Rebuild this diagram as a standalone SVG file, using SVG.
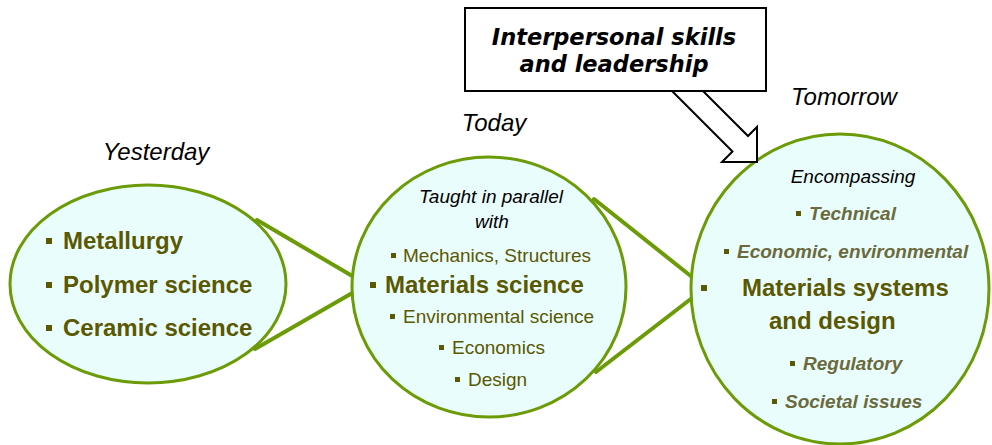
<svg xmlns="http://www.w3.org/2000/svg" width="992" height="445" viewBox="0 0 992 445">
<style>
.node{fill:#eafdfd;stroke:#6b9b06;stroke-width:3}
.conn{stroke:#6b9b06;stroke-width:4;fill:none;stroke-linecap:round}
.era{font-family:"Liberation Sans",Arial,sans-serif;font-style:italic;font-size:24px;fill:#000}
.big{font-family:"Liberation Sans",Arial,sans-serif;font-weight:bold;font-size:24px;fill:#5a5800}
.reg{font-family:"Liberation Sans",Arial,sans-serif;font-size:19px;fill:#5a5800}
.it{font-family:"Liberation Sans",Arial,sans-serif;font-style:italic;font-size:19px;fill:#000}
.bi{font-family:"Liberation Sans",Arial,sans-serif;font-style:italic;font-weight:bold;font-size:19px;fill:#6b6a3c}
.box{font-family:"DejaVu Sans",Verdana,sans-serif;font-style:italic;font-weight:bold;font-size:22.5px;fill:#000}
.b{fill:#5a5800}
</style>
<g id="connectors">
<line class="conn" x1="257" y1="220" x2="354" y2="277"/>
<line class="conn" x1="255" y1="349" x2="354" y2="292"/>
<line class="conn" x1="594" y1="199" x2="692" y2="277"/>
<line class="conn" x1="596" y1="372" x2="692" y2="298"/>
</g>
<g id="yesterday">
<text class="era" x="156" y="160" text-anchor="middle">Yesterday</text>
<ellipse class="node" cx="148" cy="284" rx="138" ry="99"/>
<rect class="b" x="46" y="238" width="6" height="6"/>
<text class="big" x="63" y="249">Metallurgy</text>
<rect class="b" x="46" y="282" width="6" height="6"/>
<text class="big" x="63" y="293">Polymer science</text>
<rect class="b" x="46" y="325" width="6" height="6"/>
<text class="big" x="63" y="336">Ceramic science</text>
</g>
<g id="today">
<text class="era" x="494" y="131" text-anchor="middle">Today</text>
<ellipse class="node" cx="489" cy="287" rx="137" ry="130"/>
<text class="it" x="491" y="203" text-anchor="middle">Taught in parallel</text>
<text class="it" x="492" y="228" text-anchor="middle">with</text>
<rect class="b" x="391" y="253" width="5" height="5"/>
<text class="reg" x="403" y="262">Mechanics, Structures</text>
<rect class="b" x="370" y="282" width="6" height="6"/>
<text class="big" x="385" y="293">Materials science</text>
<rect class="b" x="390" y="314" width="5" height="5"/>
<text class="reg" x="403" y="323">Environmental science</text>
<rect class="b" x="439" y="345" width="5" height="5"/>
<text class="reg" x="452" y="354">Economics</text>
<rect class="b" x="455" y="377" width="5" height="5"/>
<text class="reg" x="468" y="386">Design</text>
</g>
<g id="tomorrow">
<text class="era" x="844" y="105" text-anchor="middle">Tomorrow</text>
<ellipse class="node" cx="840" cy="289" rx="149" ry="155"/>
<text class="it" x="853" y="183" text-anchor="middle">Encompassing</text>
<rect class="b" x="796" y="211" width="5" height="5"/>
<text class="bi" x="809" y="220">Technical</text>
<rect class="b" x="724" y="249" width="5" height="5"/>
<text class="bi" x="737" y="258">Economic, environmental</text>
<rect class="b" x="701" y="285" width="6" height="6"/>
<text class="big" x="742" y="296">Materials systems</text>
<text class="big" x="769" y="329">and design</text>
<rect class="b" x="790" y="361" width="5" height="5"/>
<text class="bi" x="803" y="370">Regulatory</text>
<rect class="b" x="772" y="399" width="5" height="5"/>
<text class="bi" x="785" y="408">Societal issues</text>
</g>
<g id="skills">
<polygon points="672,91 732.5,151.5 722,162 757,162 757,127 748,136 703,91" fill="#fff" stroke="#000" stroke-width="2" stroke-linejoin="miter"/>
<rect x="465" y="8" width="301" height="83" fill="#fff" stroke="#000" stroke-width="2"/>
<text class="box" x="614" y="45" text-anchor="middle">Interpersonal skills</text>
<text class="box" x="614" y="72" text-anchor="middle">and leadership</text>
</g>
</svg>
